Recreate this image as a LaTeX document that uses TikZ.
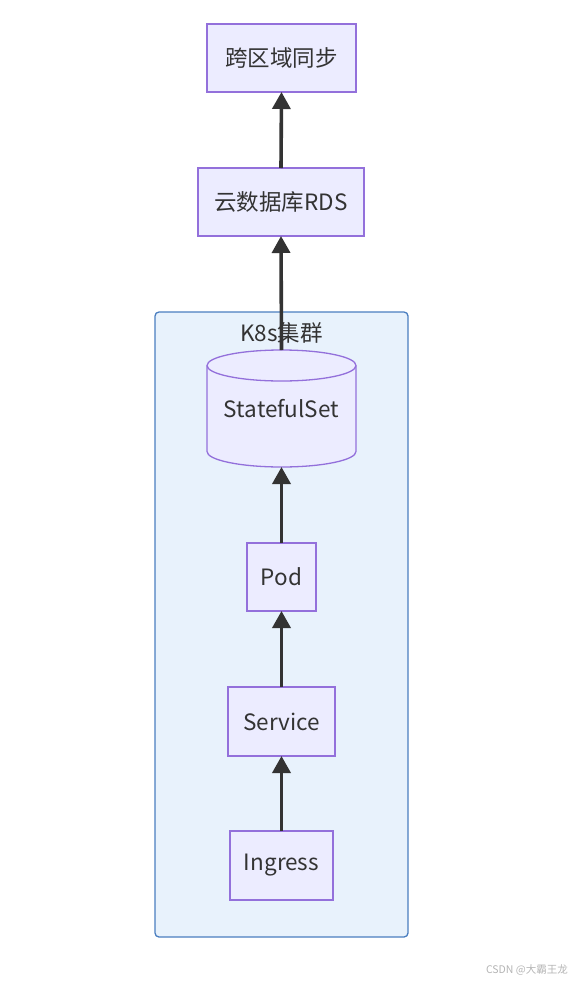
\documentclass[tikz,border=0pt]{standalone}
\usepackage{fontspec}
\setmainfont{Noto Sans CJK SC}
\usetikzlibrary{arrows.meta}
\definecolor{nodefill}{HTML}{ECECFF}
\definecolor{nodeline}{HTML}{9370DB}
\definecolor{clfill}{HTML}{E8F2FC}
\definecolor{clline}{HTML}{4A7EC0}
\definecolor{txt}{HTML}{333333}
\definecolor{wm}{HTML}{B4B4B4}
\tikzset{
  lbl/.style={text=txt, font=\fontsize{22.5}{26}\selectfont},
  box/.style={draw=nodeline, fill=nodefill, line width=1.3pt, outer sep=0pt, inner sep=0pt, lbl},
  link/.style={draw=txt, line width=3.6pt, -{Triangle[width=18pt,length=17pt]}},
}
\begin{document}
\begin{tikzpicture}[x=1pt,y=-1pt]
\useasboundingbox (0,0) rectangle (572,982);
% cluster
\node[draw=clline, fill=clfill, line width=1.3pt, rounded corners=4pt, minimum width=253pt, minimum height=625pt, inner sep=0pt] (k8s) at (281.5,624.5) {};
\node[lbl] (k8slabel) at (281.5,333) {K8s集群};
% nodes
\node[box, minimum width=149pt, minimum height=68pt] (sync) at (281.5,58) {跨区域同步};
\node[box, minimum width=166pt, minimum height=68pt] (rds) at (281,202) {云数据库RDS};
\node[outer sep=0pt, inner sep=0pt, minimum width=149pt, minimum height=117pt] (sts) at (281.5,408.5) {};
\draw[draw=nodeline, fill=nodefill, line width=1.3pt]
  (207,365.5) -- (207,451.5) arc[start angle=180, end angle=360, x radius=74.5pt, y radius=15.5pt]
  -- (356,365.5) arc[start angle=0, end angle=180, x radius=74.5pt, y radius=15.5pt] -- cycle;
\draw[draw=nodeline, line width=1.3pt] (207,365.5) arc[start angle=180, end angle=360, x radius=74.5pt, y radius=15.5pt];
\node[lbl] (stslabel) at (281.5,409) {StatefulSet};
\node[box, minimum width=69pt, minimum height=68pt] (pod) at (281.5,577) {Pod};
\node[box, minimum width=107pt, minimum height=69pt] (svc) at (281.5,721.5) {Service};
\node[box, minimum width=103pt, minimum height=69pt] (ing) at (281.5,865.5) {Ingress};
% links
\draw[link] (ing.north) -- (svc.south);
\draw[link] (svc.north) -- (pod.south);
\draw[link] (pod.north) -- (sts.south);
\draw[link] (sts.north) -- (rds.south);
\draw[link] (rds.north) -- (sync.south);
% watermark
\node[anchor=east, text=wm, font=\fontsize{10.5}{12}\selectfont, inner sep=0pt] (wmk) at (568,970) {CSDN @大霸王龙};
\end{tikzpicture}
\end{document}
